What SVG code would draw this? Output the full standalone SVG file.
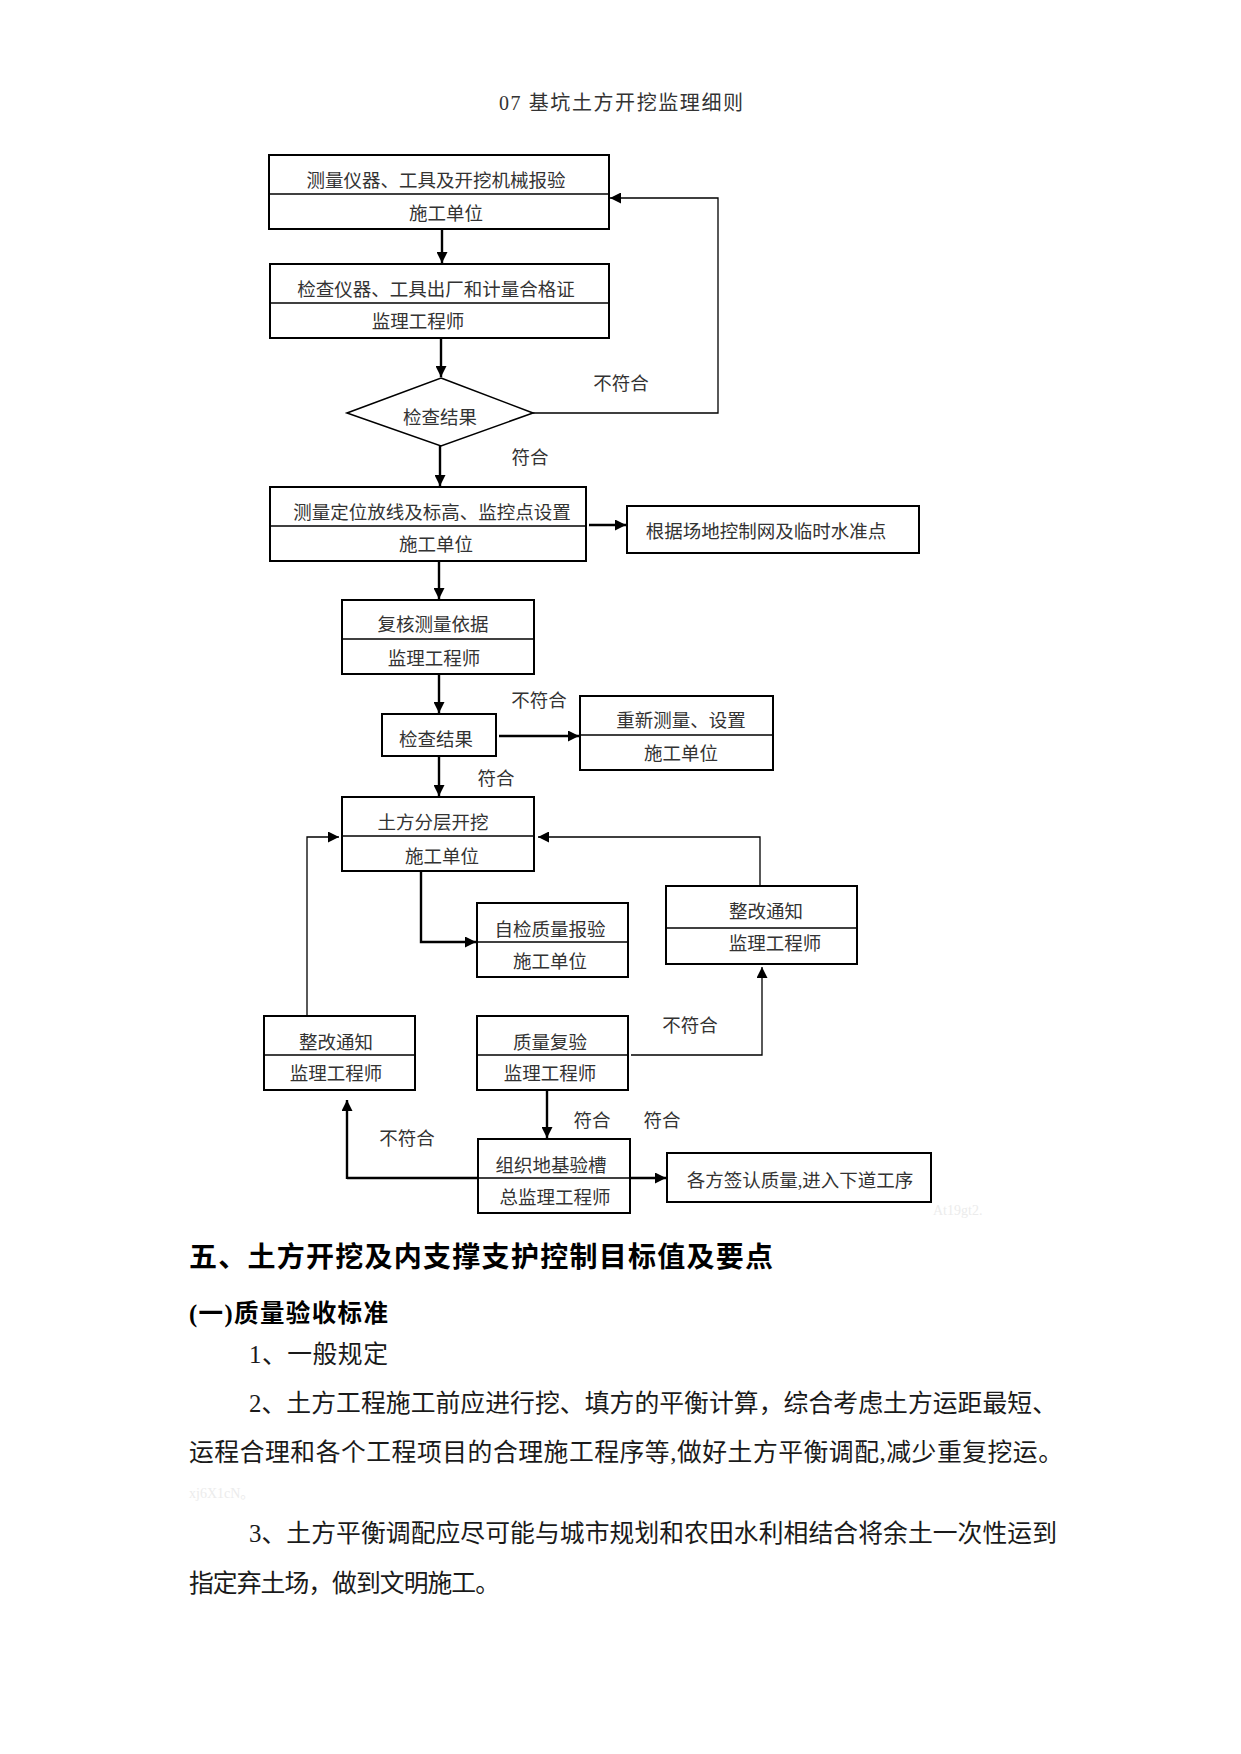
<svg xmlns="http://www.w3.org/2000/svg" width="1241" height="1754" viewBox="0 0 1241 1754">
<style>
  text { font-family: "Liberation Serif", "Noto Sans CJK SC", serif; fill: #222; }
  .t { font-size: 18.5px; text-anchor: middle; fill: #333; }
  .lbl { font-size: 18.5px; text-anchor: middle; fill: #333; }
  .box { fill: #fff; stroke: #000; stroke-width: 2; }
  .div { stroke: #000; stroke-width: 1.6; }
  .main { fill: none; stroke: #000; stroke-width: 2.4; }
  .thin { fill: none; stroke: #000; stroke-width: 1.3; }
  .h1 { font-size: 28px; font-weight: bold; fill: #000; }
  .h2 { font-size: 24.5px; font-weight: bold; fill: #000; }
  .body { font-size: 24.8px; fill: #1a1a1a; }
  .faint { font-size: 14px; fill: #ececec; }
</style>
<defs>
  <marker id="ah" viewBox="0 0 10 10" refX="10" refY="5" markerWidth="11" markerHeight="11" markerUnits="userSpaceOnUse" orient="auto">
    <path d="M0,0 L10,5 L0,10 z" fill="#000"/>
  </marker>
</defs>
<rect width="1241" height="1754" fill="#fff"/>

<text x="499" y="110" style="font-size:20px;fill:#333" textLength="244" lengthAdjust="spacing">07 基坑土方开挖监理细则</text>

<g id="connectors">
  <line class="main" x1="442" y1="229" x2="442" y2="263" marker-end="url(#ah)"/>
  <line class="main" x1="441" y1="338" x2="441" y2="377" marker-end="url(#ah)"/>
  <polyline class="thin" points="533,413 718,413 718,198 610,198" marker-end="url(#ah)"/>
  <line class="main" x1="440" y1="446" x2="440" y2="486" marker-end="url(#ah)"/>
  <line class="main" x1="589" y1="525" x2="626" y2="525" marker-end="url(#ah)"/>
  <line class="main" x1="439" y1="561" x2="439" y2="599" marker-end="url(#ah)"/>
  <line class="main" x1="439" y1="674" x2="439" y2="713" marker-end="url(#ah)"/>
  <line class="main" x1="499" y1="736" x2="579" y2="736" marker-end="url(#ah)"/>
  <line class="main" x1="439" y1="756" x2="439" y2="796" marker-end="url(#ah)"/>
  <polyline class="main" points="421,871 421,942 476,942" marker-end="url(#ah)"/>
  <polyline class="thin" points="760,886 760,837 538,837" marker-end="url(#ah)"/>
  <polyline class="thin" points="307,1016 307,837 339,837" marker-end="url(#ah)"/>
  <polyline class="thin" points="631,1055 762,1055 762,967" marker-end="url(#ah)"/>
  <line class="main" x1="547" y1="1090" x2="547" y2="1138" marker-end="url(#ah)"/>
  <line class="main" x1="347" y1="1178" x2="666" y2="1178" marker-end="url(#ah)"/>
  <line class="main" x1="347" y1="1179" x2="347" y2="1100" marker-end="url(#ah)"/>
</g>

<g id="nodeA">
  <rect class="box" x="269" y="155" width="340" height="74"/>
  <line class="div" x1="269" y1="194" x2="609" y2="194"/>
  <text class="t" x="436" y="187">测量仪器、工具及开挖机械报验</text>
  <text class="t" x="446" y="220">施工单位</text>
</g>
<g id="nodeB">
  <rect class="box" x="270" y="264" width="339" height="74"/>
  <line class="div" x1="270" y1="303" x2="609" y2="303"/>
  <text class="t" x="436" y="296">检查仪器、工具出厂和计量合格证</text>
  <text class="t" x="418" y="328">监理工程师</text>
</g>
<g id="nodeDiamond">
  <polygon points="441,378 533,413 441,446 347,413" fill="#fff" stroke="#000" stroke-width="1.6"/>
  <text class="t" x="440" y="424">检查结果</text>
</g>
<g id="nodeC">
  <rect class="box" x="270" y="487" width="316" height="74"/>
  <line class="div" x1="270" y1="526" x2="586" y2="526"/>
  <text class="t" x="432" y="519">测量定位放线及标高、监控点设置</text>
  <text class="t" x="436" y="551">施工单位</text>
</g>
<g id="nodeD">
  <rect class="box" x="627" y="506" width="292" height="47"/>
  <text class="t" x="766" y="538">根据场地控制网及临时水准点</text>
</g>
<g id="nodeE">
  <rect class="box" x="342" y="600" width="192" height="74"/>
  <line class="div" x1="342" y1="639" x2="534" y2="639"/>
  <text class="t" x="433" y="631">复核测量依据</text>
  <text class="t" x="434" y="665">监理工程师</text>
</g>
<g id="nodeF">
  <rect class="box" x="382" y="714" width="114" height="42"/>
  <text class="t" x="436" y="746">检查结果</text>
</g>
<g id="nodeG">
  <rect class="box" x="580" y="696" width="193" height="74"/>
  <line class="div" x1="580" y1="735" x2="773" y2="735"/>
  <text class="t" x="681" y="727">重新测量、设置</text>
  <text class="t" x="681" y="760">施工单位</text>
</g>
<g id="nodeH">
  <rect class="box" x="342" y="797" width="192" height="74"/>
  <line class="div" x1="342" y1="836" x2="534" y2="836"/>
  <text class="t" x="433" y="829">土方分层开挖</text>
  <text class="t" x="442" y="863">施工单位</text>
</g>
<g id="nodeI">
  <rect class="box" x="477" y="903" width="151" height="74"/>
  <line class="div" x1="477" y1="942" x2="628" y2="942"/>
  <text class="t" x="550" y="936">自检质量报验</text>
  <text class="t" x="550" y="968">施工单位</text>
</g>
<g id="nodeJ">
  <rect class="box" x="666" y="886" width="191" height="78"/>
  <line class="div" x1="666" y1="928" x2="857" y2="928"/>
  <text class="t" x="766" y="918">整改通知</text>
  <text class="t" x="775" y="950">监理工程师</text>
</g>
<g id="nodeK">
  <rect class="box" x="264" y="1016" width="151" height="74"/>
  <line class="div" x1="264" y1="1055" x2="415" y2="1055"/>
  <text class="t" x="336" y="1049">整改通知</text>
  <text class="t" x="336" y="1080">监理工程师</text>
</g>
<g id="nodeL">
  <rect class="box" x="477" y="1016" width="151" height="74"/>
  <line class="div" x1="477" y1="1055" x2="628" y2="1055"/>
  <text class="t" x="550" y="1049">质量复验</text>
  <text class="t" x="550" y="1080">监理工程师</text>
</g>
<g id="nodeM">
  <rect class="box" x="478" y="1139" width="152" height="74"/>
  <line class="div" x1="478" y1="1178" x2="630" y2="1178"/>
  <text class="t" x="551" y="1172">组织地基验槽</text>
  <text class="t" x="555" y="1204">总监理工程师</text>
</g>
<g id="nodeN">
  <rect class="box" x="667" y="1153" width="264" height="49"/>
  <text class="t" x="800" y="1187">各方签认质量,进入下道工序</text>
</g>

<g id="labels">
  <text class="lbl" x="621" y="390">不符合</text>
  <text class="lbl" x="530" y="464">符合</text>
  <text class="lbl" x="539" y="707">不符合</text>
  <text class="lbl" x="496" y="785">符合</text>
  <text class="lbl" x="690" y="1032">不符合</text>
  <text class="lbl" x="592" y="1127">符合</text>
  <text class="lbl" x="662" y="1127">符合</text>
  <text class="lbl" x="407" y="1145">不符合</text>
</g>

<text class="faint" x="933" y="1215">At19gt2.</text>

<text class="h1" x="189" y="1267" textLength="584" lengthAdjust="spacing">五、土方开挖及内支撑支护控制目标值及要点</text>
<text class="h2" x="189" y="1322" textLength="199" lengthAdjust="spacing">(一)质量验收标准</text>
<text class="body" x="249" y="1363" textLength="139" lengthAdjust="spacing">1、一般规定</text>
<text class="body" x="249" y="1412" textLength="808" lengthAdjust="spacing">2、土方工程施工前应进行挖、填方的平衡计算，综合考虑土方运距最短、</text>
<text class="body" x="189" y="1461" textLength="874" lengthAdjust="spacing">运程合理和各个工程项目的合理施工程序等,做好土方平衡调配,减少重复挖运。</text>
<text class="faint" x="189" y="1498">xj6X1cN。</text>
<text class="body" x="249" y="1542" textLength="808" lengthAdjust="spacing">3、土方平衡调配应尽可能与城市规划和农田水利相结合将余土一次性运到</text>
<text class="body" x="189" y="1592" textLength="311" lengthAdjust="spacing">指定弃土场，做到文明施工。</text>
</svg>
